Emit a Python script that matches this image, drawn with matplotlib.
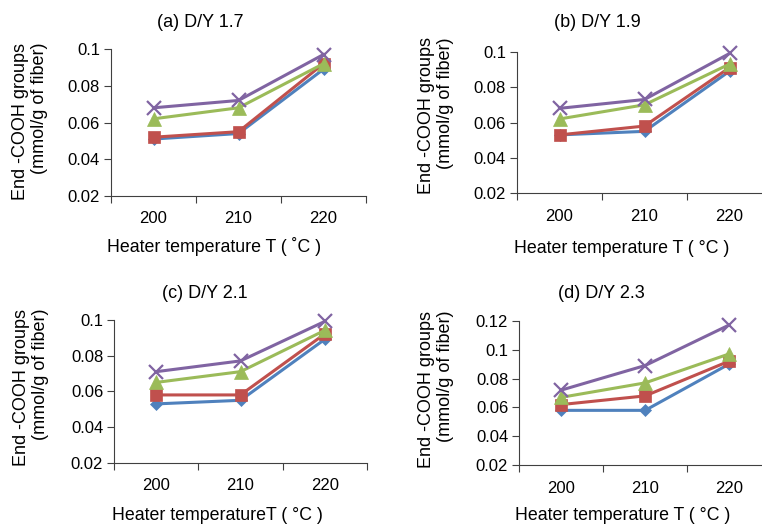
import numpy as np
import matplotlib
matplotlib.use('Agg')
import matplotlib.pyplot as plt
from matplotlib.ticker import FixedLocator, NullFormatter

plt.rcParams['font.family'] = ['Liberation Sans', 'DejaVu Sans']

temps = ['200', '210', '220']

# (a) D/Y 1.7
a_blue = [0.051, 0.054, 0.089]
a_red = [0.052, 0.055, 0.092]
a_green = [0.062, 0.068, 0.092]
a_purple = [0.068, 0.072, 0.097]

# (b) D/Y 1.9
b_blue = [0.053, 0.055, 0.089]
b_red = [0.053, 0.058, 0.091]
b_green = [0.062, 0.070, 0.093]
b_purple = [0.068, 0.073, 0.099]

# (c) D/Y 2.1
c_blue = [0.053, 0.055, 0.089]
c_red = [0.058, 0.058, 0.092]
c_green = [0.065, 0.071, 0.094]
c_purple = [0.071, 0.077, 0.099]

# (d) D/Y 2.3
d_blue = [0.058, 0.058, 0.090]
d_red = [0.062, 0.068, 0.092]
d_green = [0.067, 0.077, 0.097]
d_purple = [0.072, 0.089, 0.117]

titles = ['(a) D/Y 1.7', '(b) D/Y 1.9', '(c) D/Y 2.1', '(d) D/Y 2.3']
xlabels = ['Heater temperature T ( ˚C )', 'Heater temperature T ( °C )',
           'Heater temperatureT ( °C )', 'Heater temperature T ( °C )']
ylabel = 'End -COOH groups\n(mmol/g of fiber)'

colors = ['#4F81BD', '#C0504D', '#9BBB59', '#8064A2']
markers = ['D', 's', '^', 'x']
msizes = [6.5, 8.5, 10, 10]

W, H = 762, 526
fig = plt.figure(figsize=(W / 100, H / 100), dpi=100)

def px(x0, y0, x1, y1):
    # rect from pixel coords (top-left origin)
    return [x0 / W, 1 - y1 / H, (x1 - x0) / W, (y1 - y0) / H]

panels = [
    dict(rect=px(111, 49, 366, 196), data=[a_blue, a_red, a_green, a_purple],
         ylim=(0.02, 0.1), yt=[0.02, 0.04, 0.06, 0.08, 0.1],
         title=(200.7, 22.7), xl=(214, 247), yl=(30, 121)),
    dict(rect=px(517, 51.7, 772, 193.3), data=[b_blue, b_red, b_green, b_purple],
         ylim=(0.02, 0.1), yt=[0.02, 0.04, 0.06, 0.08, 0.1],
         title=(597, 22.7), xl=(622, 248.3), yl=(436, 116)),
    dict(rect=px(114.3, 319.7, 366.7, 463), data=[c_blue, c_red, c_green, c_purple],
         ylim=(0.02, 0.1), yt=[0.02, 0.04, 0.06, 0.08, 0.1],
         title=(205, 293), xl=(217, 515), yl=(31, 387)),
    dict(rect=px(519.3, 320.7, 771, 465.3), data=[d_blue, d_red, d_green, d_purple],
         ylim=(0.02, 0.12), yt=[0.02, 0.04, 0.06, 0.08, 0.1, 0.12],
         title=(601, 293), xl=(623, 515), yl=(436, 389)),
]

x = np.arange(len(temps))

for i, p in enumerate(panels):
    ax = fig.add_axes(p['rect'])
    for ser, c, m, ms in zip(p['data'], colors, markers, msizes):
        ax.plot(x, ser, color=c, lw=2.2, marker=m, ms=ms, mew=1.6 if m == 'x' else 0.5,
                mec=c, mfc=c, clip_on=False)
    ax.set_xlim(-0.5, 2.5)
    ax.set_ylim(*p['ylim'])
    ax.set_yticks(p['yt'])
    ax.set_yticklabels(['%g' % v for v in p['yt']])
    ax.set_xticks(x)
    ax.set_xticklabels(temps)
    ax.xaxis.set_minor_locator(FixedLocator([-0.5, 0.5, 1.5, 2.5]))
    ax.xaxis.set_minor_formatter(NullFormatter())
    ax.tick_params(axis='x', which='major', length=0, pad=11, labelsize=12)
    ax.tick_params(axis='x', which='minor', length=5, width=0.8, direction='out', color='#404040')
    ax.tick_params(axis='y', length=5, width=0.8, direction='out', pad=3, labelsize=12, color='#404040')
    for s in ['top', 'right']:
        ax.spines[s].set_visible(False)
    for s in ['left', 'bottom']:
        ax.spines[s].set_color('#404040')
        ax.spines[s].set_linewidth(0.8)

    tx, ty = p['title']
    fig.text(tx / W, 1 - ty / H, titles[i], ha='center', va='center', fontsize=13)
    lx, ly = p['xl']
    fig.text(lx / W, 1 - ly / H, xlabels[i], ha='center', va='center', fontsize=12.8)
    yx, yy = p['yl']
    fig.text(yx / W, 1 - yy / H, ylabel, ha='center', va='center', rotation=90,
             multialignment='right', fontsize=13, linespacing=1.1)

fig.savefig('out.png', dpi=100, facecolor='white')
